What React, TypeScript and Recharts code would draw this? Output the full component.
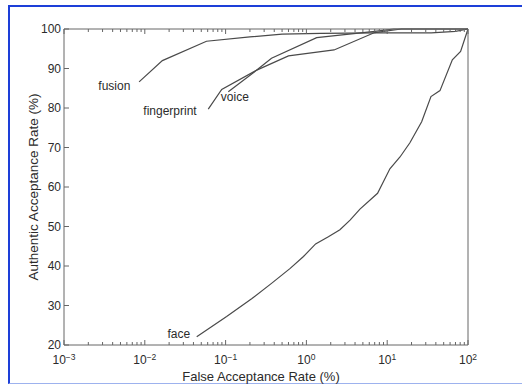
import React from 'react';
import {
  LineChart,
  Line,
  XAxis,
  YAxis,
  ReferenceDot,
} from 'recharts';

// False acceptance rate (%) vs authentic acceptance rate (%)
const fusionFar = [0.0085, 0.0165, 0.058, 0.2, 0.5, 1.5, 7.4, 35, 70, 100];
const fusionAar = [86.6, 92.0, 96.9, 98.0, 98.7, 98.9, 99.0, 99.0, 99.4, 100];

const fingerprintFar = [0.061, 0.0895, 0.243, 0.6, 2.2, 7.0, 15, 100];
const fingerprintAar = [79.7, 84.7, 89.6, 93.2, 94.7, 99.1, 100, 100];

const voiceFar = [0.108, 0.243, 0.37, 1.34, 7.0, 12, 100];
const voiceAar = [84.1, 89.6, 92.6, 97.8, 99.4, 100, 100];

const faceFar = [
  0.0439, 0.103, 0.21, 0.37, 0.63, 0.92, 1.3, 1.87, 2.6, 3.47, 4.6, 7.6, 10.8,
  14.4, 19.1, 26.7, 34.8, 45, 64, 81, 100,
];
const faceAar = [
  22.1, 27.2, 31.7, 35.6, 39.4, 42.4, 45.6, 47.4, 49.2, 51.6, 54.4, 58.4, 64.6,
  67.6, 71.2, 76.5, 82.9, 84.4, 92.2, 94.3, 100,
];

// curve name tags, placed in data coordinates
const tagNames = ['fusion', 'fingerprint', 'voice', 'face'];
const tagFar = [0.0042, 0.0205, 0.13, 0.0263];
const tagAar = [85.6, 79.2, 82.8, 22.8];

const yTicks = [20, 30, 40, 50, 60, 70, 80, 90, 100];
const decades = [-3, -2, -1, 0, 1, 2];

// log ticks: majors at decades plus minors 2..9
const xTicks: number[] = [];
decades.forEach((d) => {
  xTicks.push(Math.pow(10, d));
  if (d < 2) for (let k = 2; k <= 9; k++) xTicks.push(k * Math.pow(10, d));
});

const toPoints = (xs: number[], ys: number[]) =>
  xs.map((x, i) => ({ far: x, aar: ys[i] }));

const FONT = '"Liberation Sans", Arial, Helvetica, sans-serif';
const AXIS = '#666';
const INK = '#2b2b2b';
const CURVE = '#4a4a4a';

const isMajor = (v: number) => {
  const l = Math.log10(v);
  return Math.abs(l - Math.round(l)) < 1e-6;
};

const BottomTick = (props: any) => {
  const { x, y, payload } = props;
  const v = payload.value;
  const major = isMajor(v);
  const len = major ? 5 : 3;
  const exp = Math.round(Math.log10(v));
  return (
    <g>
      <line x1={x} x2={x} y1={y} y2={y - len} stroke={AXIS} strokeWidth={1} />
      {major && (
        <text x={x} y={y + 18.5} textAnchor="middle" fontSize={12} fill={INK} fontFamily={FONT}>
          10
          <tspan dy={-4} fontSize={8.5}>
            {exp < 0 ? `\u2212${-exp}` : `${exp}`}
          </tspan>
        </text>
      )}
    </g>
  );
};

const TopTick = (props: any) => {
  const { x, y, payload } = props;
  const len = isMajor(payload.value) ? 5 : 3;
  return <line x1={x} x2={x} y1={y} y2={y + len} stroke={AXIS} strokeWidth={1} />;
};

const LeftTick = (props: any) => {
  const { x, y, payload } = props;
  return (
    <g>
      <line x1={x} x2={x + 5} y1={y} y2={y} stroke={AXIS} strokeWidth={1} />
      <text x={x - 3} y={y + 4} textAnchor="end" fontSize={12} fill={INK} fontFamily={FONT}>
        {payload.value}
      </text>
    </g>
  );
};

const RightTick = (props: any) => {
  const { x, y } = props;
  return <line x1={x} x2={x - 5} y1={y} y2={y} stroke={AXIS} strokeWidth={1} />;
};

const series = [
  { name: 'fusion', data: toPoints(fusionFar, fusionAar) },
  { name: 'fingerprint', data: toPoints(fingerprintFar, fingerprintAar) },
  { name: 'voice', data: toPoints(voiceFar, voiceAar) },
  { name: 'face', data: toPoints(faceFar, faceAar) },
];

export default function App() {
  return (
    <div style={{ position: 'absolute', left: 0, top: 0, width: 522, height: 384, background: '#fff' }}>
      <div
        style={{
          position: 'absolute',
          left: 8,
          top: 5,
          width: 514,
          height: 379,
          boxSizing: 'border-box',
          borderTop: '2px solid #1d3fd8',
          borderLeft: '2px solid #1d3fd8',
          borderBottom: '1px solid #9db2ee',
        }}
      />
      <div style={{ position: 'absolute', left: 0, top: 0 }}>
        <LineChart
          width={522}
          height={384}
          margin={{ top: 28, right: 53, bottom: 9, left: 14 }}
        >
          <XAxis
            xAxisId={0}
            dataKey="far"
            type="number"
            scale="log"
            domain={[0.001, 100]}
            allowDataOverflow
            ticks={xTicks}
            interval={0}
            tickSize={0}
            tickMargin={0}
            tickLine={false}
            tick={<BottomTick />}
            height={30}
            stroke={AXIS}
            label={{
              value: 'False Acceptance Rate (%)',
              position: 'insideBottom',
              offset: -6,
              dx: -5,
              style: { fontSize: 13, fill: INK, fontFamily: FONT },
            }}
          />
          <XAxis
            xAxisId="top"
            orientation="top"
            dataKey="far"
            type="number"
            scale="log"
            domain={[0.001, 100]}
            allowDataOverflow
            ticks={xTicks}
            interval={0}
            tickSize={0}
            tickMargin={0}
            tickLine={false}
            tick={<TopTick />}
            height={1}
            stroke={AXIS}
          />
          <YAxis
            yAxisId={0}
            type="number"
            domain={[20, 100]}
            ticks={yTicks}
            interval={0}
            tickSize={0}
            tickMargin={0}
            tickLine={false}
            tick={<LeftTick />}
            width={50}
            stroke={AXIS}
            label={{
              value: 'Authentic Acceptance Rate (%)',
              angle: -90,
              position: 'insideLeft',
              offset: 19,
              style: { textAnchor: 'middle', fontSize: 13.5, fill: INK, fontFamily: FONT },
            }}
          />
          <YAxis
            yAxisId="right"
            orientation="right"
            type="number"
            domain={[20, 100]}
            ticks={yTicks}
            interval={0}
            tickSize={0}
            tickMargin={0}
            tickLine={false}
            tick={<RightTick />}
            width={1}
            stroke={AXIS}
          />
          {series.map((s) => (
            <Line
              key={s.name}
              data={s.data}
              dataKey="aar"
              type="linear"
              stroke={CURVE}
              strokeWidth={1.2}
              dot={false}
              activeDot={false}
              isAnimationActive={false}
            />
          ))}
          {tagNames.map((name, i) => (
            <ReferenceDot
              key={name}
              x={tagFar[i]}
              y={tagAar[i]}
              r={1}
              fill="none"
              stroke="none"
              label={{
                value: name,
                position: 'center',
                style: { fontSize: 12, fill: INK, fontFamily: FONT },
              }}
            />
          ))}
        </LineChart>
      </div>
    </div>
  );
}
